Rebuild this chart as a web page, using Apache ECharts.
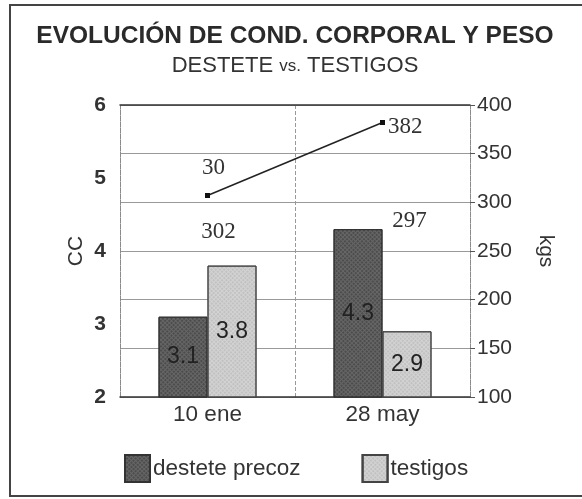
<!DOCTYPE html>
<html>
<head>
<meta charset="utf-8">
<script src="https://cdn.jsdelivr.net/npm/echarts@6/dist/echarts.min.js"></script>
<style>html,body{margin:0;padding:0;background:#fff}#c{width:582px;height:499px}</style>
</head>
<body>
<div id="c"></div>
<script>
const categories = ['10 ene', '28 may'];
const ccDestete = [3.1, 4.3];
const ccTestigos = [3.8, 2.9];
const pesoDestete = [307, 382];
const pesoTestigos = [302, 297];
const ccTicks = [2, 3, 4, 5, 6];
const kgTicks = [100, 150, 200, 250, 300, 350, 400];

// label layout (positions only)
const pesoDesteteLabelLayout = [{ position: 'top', offset: [6, -9] }, { position: 'right', offset: [-2, 4] }];
const pesoTestigosLabelLayout = [{ position: 'bottom', offset: [11, 15] }, { position: 'bottom', offset: [27, -1] }];

const chart = echarts.init(document.getElementById('c'));
const sans = '"Liberation Sans", Arial, sans-serif';
const serif = '"Liberation Serif", "Times New Roman", serif';

chart.setOption({
  backgroundColor: '#fff',
  animation: false,
  aria: { enabled: true, decal: { show: true } },
  title: [
    { text: 'EVOLUCIÓN DE COND. CORPORAL Y PESO', left: 290, top: 19, textAlign: 'center',
      textStyle: { fontFamily: sans, fontSize: 24.5, fontWeight: 'bold', color: '#2a2a2a' } },
    { text: '{a|DESTETE }{b|vs.}{a| TESTIGOS}', left: 290, top: 50, textAlign: 'center',
      textStyle: { fontWeight: 'normal', rich: {
        a: { fontFamily: sans, fontSize: 22, fontWeight: 'normal', color: '#333' },
        b: { fontFamily: sans, fontSize: 17, fontWeight: 'normal', color: '#333' } } } }
  ],
  graphic: [
    { type: 'rect', shape: { x: 10, y: 5, width: 600, height: 491 }, z: 100,
      style: { fill: 'none', stroke: '#444', lineWidth: 2 } }
  ],
  legend: {
    data: ['destete precoz', 'testigos'],
    left: 119, top: 449, itemWidth: 25, itemHeight: 27, itemGap: 61, icon: 'rect',
    textStyle: { fontFamily: sans, fontSize: 22.5, color: '#333', padding: [2, 0, 0, -2] }
  },
  grid: { left: 120, right: 112, top: 105, bottom: 102 },
  xAxis: [
    { type: 'category', data: categories, position: 'bottom',
      axisLine: { lineStyle: { color: '#333', width: 1.5 } },
      axisTick: { show: false },
      axisLabel: { fontFamily: sans, fontSize: 22.5, color: '#333', margin: 6 },
      splitLine: { show: true, lineStyle: { color: '#999', type: 'dashed', width: 1 } } },
    { type: 'category', data: categories, position: 'top',
      axisLine: { lineStyle: { color: '#333', width: 1.5 } },
      axisTick: { show: false }, axisLabel: { show: false } }
  ],
  yAxis: [
    { type: 'value', min: 2, max: 6, interval: 1, position: 'left',
      name: 'CC', nameLocation: 'middle', nameGap: 33, nameRotate: 90, nameMoveOverlap: false,
      nameTextStyle: { fontFamily: sans, fontSize: 21, color: '#333' },
      axisLine: { show: true, lineStyle: { color: '#888', type: 'dotted' } },
      axisTick: { show: false },
      axisLabel: { fontFamily: sans, fontSize: 21, fontWeight: 'bold', color: '#333', margin: 14 },
      splitLine: { show: false } },
    { type: 'value', min: 100, max: 400, interval: 50, position: 'right',
      name: 'kgs', nameLocation: 'middle', nameGap: 65, nameRotate: -90, nameMoveOverlap: false,
      nameTextStyle: { fontFamily: sans, fontSize: 21, color: '#333' },
      axisLine: { show: true, lineStyle: { color: '#888', type: 'dotted' } },
      axisTick: { show: true, length: 5, lineStyle: { color: '#555' } },
      axisLabel: { fontFamily: sans, fontSize: 21, color: '#333', margin: 7 },
      splitLine: { show: true, lineStyle: { color: '#999', width: 1 } } }
  ],
  series: [
    { name: 'destete precoz', type: 'bar', yAxisIndex: 0, data: ccDestete,
      barWidth: '28%', barGap: '0%',
      itemStyle: { color: '#666', borderColor: '#333', borderWidth: 1,
        decal: { symbol: 'rect', symbolSize: 1, dashArrayX: [2, 1], dashArrayY: [2, 1], color: 'rgba(30,30,30,0.35)', rotation: 0.78 } },
      label: { show: true, position: 'inside', fontFamily: sans, fontSize: 23, color: '#222' } },
    { name: 'testigos', type: 'bar', yAxisIndex: 0, data: ccTestigos,
      barWidth: '28%', barGap: '0%',
      itemStyle: { color: '#d3d3d3', borderColor: '#444', borderWidth: 1,
        decal: { symbol: 'rect', symbolSize: 1, dashArrayX: [2, 1], dashArrayY: [2, 1], color: 'rgba(120,120,120,0.2)', rotation: 0.78 } },
      label: { show: true, position: 'inside', fontFamily: sans, fontSize: 23, color: '#222' } },
    { name: 'peso destete', type: 'line', yAxisIndex: 1, z: 5,
      data: pesoDestete.map((v, i) => ({ value: v, label: pesoDesteteLabelLayout[i] })),
      symbol: 'rect', symbolSize: 5, itemStyle: { color: '#111' },
      lineStyle: { color: '#222', width: 1.5 },
      label: { show: true, fontFamily: serif, fontSize: 23, color: '#333',
        formatter: p => p.dataIndex === 0 ? '30' : String(p.value) } },
    { name: 'peso testigos', type: 'line', yAxisIndex: 1, z: 5,
      data: pesoTestigos.map((v, i) => ({ value: v, label: pesoTestigosLabelLayout[i] })),
      symbol: 'circle', symbolSize: 1, showSymbol: true,
      lineStyle: { opacity: 0 }, itemStyle: { color: 'rgba(0,0,0,0)' },
      label: { show: true, fontFamily: serif, fontSize: 23, color: '#333' } }
  ]
});
</script>
</body>
</html>
